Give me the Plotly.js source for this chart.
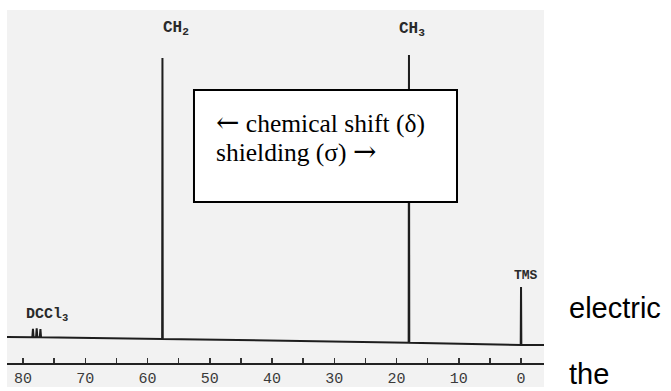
<!DOCTYPE html>
<html>
<head>
<meta charset="utf-8">
<script src="https://cdn.plot.ly/plotly-3.0.1.min.js"></script>
<style>html,body{margin:0;padding:0;background:#fff;}#chart{width:671px;height:391px;}</style>
</head>
<body>
<div id="chart"></div>
<script>
// 13C NMR spectrum (ethanol in CDCl3) – chemical shift in ppm, relative intensity
const shiftPpm = [82.57, 78.5, 78.4, 78.3, 77.9, 77.8, 77.7, 77.3, 77.2, 77.1,
                  57.65, 57.6, 57.55, 18.05, 18.0, 17.95, 0.05, 0.0, -0.05, -3.69];
const intensity = [2.8, 2.7, 5.6, 2.7, 2.7, 5.8, 2.7, 2.7, 5.5, 2.7,
                   2.1, 99.3, 2.1, 0.8, 100.3, 0.8, 0.0, 20.1, 0.0, 0.0];

const peakLabels = ["CH<sub>2</sub>", "CH<sub>3</sub>", "TMS", "DCCl<sub>3</sub>"];
const peakLabelPpm = [57.8, 19.9, 1.5, 79.8];
const peakLabelY = [109.5, 109.0, 23.9, 10.4];
const peakLabelSize = [16, 16, 13, 15];

const tickValues = [80, 70, 60, 50, 40, 30, 20, 10, 0];
const tickLabels = ["80", "70", "60", "50", "40", "30", "20", "10", "0"];

const arrowLeft = "\u2190", arrowRight = "\u2192";
const boxLines = [[arrowLeft, " chemical shift (\u03b4)"], ["shielding (\u03c3) ", arrowRight]];
const sideWords = ["electric", "the"];

const trace = {
  x: shiftPpm, y: intensity, type: "scatter", mode: "lines",
  line: {color: "#1e1e1e", width: 2}, hoverinfo: "skip", showlegend: false
};

const arrowSpan = a => '<span style="font-family:DejaVu Serif;font-size:28px">' + a + '</span>';
const annotations = [];
peakLabels.forEach((t, i) => annotations.push({
  x: peakLabelPpm[i], y: peakLabelY[i], xref: "x", yref: "y", text: "<b>" + t + "</b>",
  showarrow: false, xanchor: "left", yanchor: "middle",
  font: {family: "Liberation Mono, DejaVu Sans Mono, monospace", size: peakLabelSize[i], color: "#2a2a2a"}
}));
const boxY = [0.680, 0.598];
const boxText = [arrowSpan(boxLines[0][0]) + boxLines[0][1], boxLines[1][0] + arrowSpan(boxLines[1][1])];
boxText.forEach((t, i) => annotations.push({
  x: 0.3855, y: boxY[i], xref: "paper", yref: "paper", text: t,
  showarrow: false, xanchor: "left", yanchor: "middle",
  font: {family: "Liberation Serif, Times New Roman, serif", size: 25.5, color: "#000"}
}));
const sideY = [0.156, -0.031];
sideWords.forEach((t, i) => annotations.push({
  x: 1.0428, y: sideY[i], xref: "paper", yref: "paper", text: t,
  showarrow: false, xanchor: "left", yanchor: "middle",
  font: {family: "Liberation Sans, Arial, sans-serif", size: 29, color: "#000"}
}));

const layout = {
  width: 671, height: 391,
  margin: {l: 7, r: 127, t: 10, b: 28},
  paper_bgcolor: "#ffffff", plot_bgcolor: "rgba(0,0,0,0)",
  showlegend: false,
  xaxis: {
    range: [82.57, -3.69], showgrid: false, zeroline: false,
    showline: true, linecolor: "#222", linewidth: 1.5,
    ticks: "inside", ticklen: 5, tickwidth: 1.5, tickcolor: "#333",
    tickvals: tickValues, ticktext: tickLabels,
    minor: {tickvals: [75, 65, 55, 45, 35, 25, 15, 5], ticks: "inside", ticklen: 5, tickwidth: 1.5, tickcolor: "#333", showgrid: false},
    tickfont: {family: "Liberation Mono, DejaVu Sans Mono, monospace", size: 15, color: "#3a3a3a"},
    fixedrange: true
  },
  yaxis: {range: [-6.23, 115.9], visible: false, showgrid: false, zeroline: false, fixedrange: true},
  shapes: [
    {type: "rect", xref: "paper", yref: "paper", x0: 0, x1: 1, y0: -0.068, y1: 1,
     fillcolor: "#f2f2f2", line: {width: 0}, layer: "below"},
    {type: "rect", xref: "paper", yref: "paper", x0: 0.3482, x1: 0.838, y0: 0.4561, y1: 0.7734,
     fillcolor: "#ffffff", line: {color: "#000", width: 2}, layer: "above"}
  ],
  annotations: annotations
};

Plotly.newPlot("chart", [trace], layout, {displayModeBar: false, staticPlot: true});
</script>
</body>
</html>
